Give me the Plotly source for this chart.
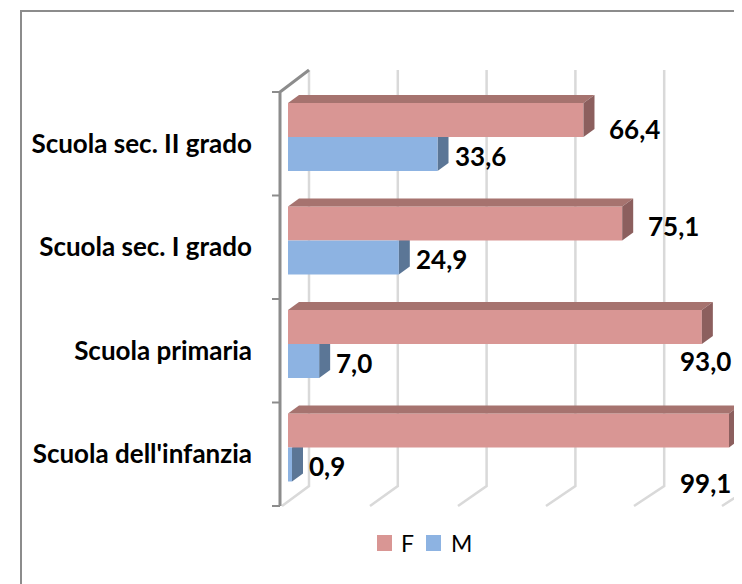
import plotly.graph_objects as go

# ---------------- data ----------------
categories = ["Scuola sec. II grado", "Scuola sec. I grado", "Scuola primaria", "Scuola dell'infanzia"]
f_values = [66.4, 75.1, 93.0, 99.1]
m_values = [33.6, 24.9, 7.0, 0.9]
f_labels = ["66,4", "75,1", "93,0", "99,1"]
m_labels = ["33,6", "24,9", "7,0", "0,9"]
grid_values = [0, 20, 40, 60, 80, 100]
series_names = ["F", "M"]

# ---------------- style ----------------
BODY = 8                   # default page margin of the html body
W, H = 742 - BODY, 584 - BODY
FONT = "Lato, Carlito, Calibri, 'Open Sans', sans-serif"
F_FRONT, F_TOP, F_SIDE = "#D99694", "#A6736F", "#8C5F5E"
M_FRONT, M_SIDE = "#8DB3E2", "#5B7696"
GRID = "#D9D9D9"
AXIS = "#8C8C8C"

# pixel geometry (screen coordinates) of the plot area
PL, PR, PT, PB = 270, 742, 60, 520
X0PX, SX = 288, 4.45       # pixel of value 0, pixels per unit
Y0PX, SY = 506, 103.5      # pixel of floor, pixels per category band
DXP, DYP = 11, 8           # bar depth (pixels)
F_TOP_OFF, SPLIT_OFF, M_BOT_OFF = 11, 45, 79
f_label_dy = [9, 2, 34, 52]   # label nudges (px, downward)
LABEL_RIGHT_LIMIT = 733

def xd(px):
    return (px - X0PX) / SX

def yd(py):
    return (Y0PX - py) / SY

def ppx(px):
    return (px - PL) / (PR - PL)

def ppy(py):
    return (PB - py) / (PB - PT)

n = len(categories)
ks = [n - 1 - i for i in range(n)]
band_top = [k + 1 for k in ks]
yF_top = [b - F_TOP_OFF / SY for b in band_top]
yF_bot = [b - SPLIT_OFF / SY for b in band_top]
yM_bot = [b - M_BOT_OFF / SY for b in band_top]
yF_c = [(a + b) / 2 for a, b in zip(yF_top, yF_bot)]
yM_c = [(a + b) / 2 for a, b in zip(yF_bot, yM_bot)]
bar_w = (SPLIT_OFF - F_TOP_OFF) / SY
DX, DY = DXP / SX, DYP / SY

fig = go.Figure()
fig.add_trace(go.Bar(x=f_values, y=yF_c, width=bar_w, orientation="h", name=series_names[0],
                     marker=dict(color=F_FRONT, line=dict(width=0)),
                     showlegend=False, hoverinfo="skip"))
fig.add_trace(go.Bar(x=m_values, y=yM_c, width=bar_w, orientation="h", name=series_names[1],
                     marker=dict(color=M_FRONT, line=dict(width=0)),
                     showlegend=False, hoverinfo="skip"))

shapes = []

def path(points):
    return "M " + " L ".join(f"{x},{y}" for x, y in points) + " Z"

# gridlines (back wall + floor)
back_top = yd(70)
back_floor = yd(486)
front_floor = yd(506)
for v in grid_values:
    xb = xd(309) + v * 4.44 / SX
    xf = xd(282) + v * 4.40 / SX
    shapes.append(dict(type="path", xref="x", yref="y", layer="below",
                       path=f"M {xb},{back_top} L {xb},{back_floor} L {xf},{front_floor}",
                       line=dict(color=GRID, width=2.5)))

# value axis wall line
shapes.append(dict(type="path", xref="x", yref="y", layer="below",
                   path=f"M {xd(280)},{yd(506)} L {xd(280)},{yd(92)} L {xd(309)},{yd(70)}",
                   line=dict(color=AXIS, width=3)))
for k in range(n + 1):
    shapes.append(dict(type="line", xref="x", yref="y", layer="below",
                       x0=xd(272), x1=xd(280), y0=k, y1=k,
                       line=dict(color=AXIS, width=2)))

# M side faces (partly hidden behind F fronts)
for m, yt, yb in zip(m_values, yF_bot, yM_bot):
    shapes.append(dict(type="path", xref="x", yref="y", layer="below",
                       path=path([(m, yt), (m, yb), (m + DX, yb + DY), (m + DX, yt + DY)]),
                       fillcolor=M_SIDE, line=dict(width=0)))

# F top and side faces
for f, yt, yb in zip(f_values, yF_top, yF_bot):
    shapes.append(dict(type="path", xref="x", yref="y", layer="above",
                       path=path([(0, yt), (f, yt), (f + DX, yt + DY), (DX, yt + DY)]),
                       fillcolor=F_TOP, line=dict(width=0)))
    shapes.append(dict(type="path", xref="x", yref="y", layer="above",
                       path=path([(f, yt), (f, yb), (f + DX, yb + DY), (f + DX, yt + DY)]),
                       fillcolor=F_SIDE, line=dict(width=0)))

# outer chart border (top and left edges visible)
shapes.append(dict(type="path", xref="paper", yref="paper",
                   path=f"M {ppx(21)},{ppy(600)} L {ppx(21)},{ppy(11)} L {ppx(760)},{ppy(11)}",
                   line=dict(color="#8C8C8C", width=2)))

# legend (squares + text)
annotations = []
leg_x = [377, 426]
leg_text_x = [399, 449]
for name, col, lx, tx in zip(series_names, [F_FRONT, M_FRONT], leg_x, leg_text_x):
    shapes.append(dict(type="rect", xref="paper", yref="paper",
                       x0=ppx(lx), x1=ppx(lx + 15), y0=ppy(551), y1=ppy(535),
                       fillcolor=col, line=dict(width=0)))
    annotations.append(dict(x=ppx(tx), y=ppy(543), xref="paper", yref="paper", text=name,
                            showarrow=False, xanchor="left", yanchor="middle",
                            font=dict(family=FONT, size=23, color="black")))

lab_font = dict(family=FONT, size=26, color="black", weight=700)
for v, lab, yc in zip(m_values, m_labels, yM_c):
    annotations.append(dict(x=v, y=yc, xref="x", yref="y", text=lab, showarrow=False,
                            xanchor="left", yanchor="middle", xshift=15, yshift=-1.5,
                            font=lab_font))
for v, lab, yc, ddy in zip(f_values, f_labels, yF_c, f_label_dy):
    left_px = X0PX + v * SX + 24
    est_w = 50
    if left_px + est_w > LABEL_RIGHT_LIMIT:
        annotations.append(dict(x=xd(LABEL_RIGHT_LIMIT), y=yc, xref="x", yref="y", text=lab,
                                showarrow=False, xanchor="right", yanchor="middle",
                                yshift=-ddy, font=lab_font))
    else:
        annotations.append(dict(x=v, y=yc, xref="x", yref="y", text=lab, showarrow=False,
                                xanchor="left", yanchor="middle", xshift=24, yshift=-ddy,
                                font=lab_font))

fig.update_layout(
    width=W, height=H,
    margin=dict(l=PL - BODY, r=742 - PR, t=PT - BODY, b=584 - PB, pad=0),
    paper_bgcolor="white", plot_bgcolor="white",
    barmode="overlay",
    font=dict(family=FONT, color="black"),
    xaxis=dict(range=[xd(PL), xd(PR)], showgrid=False, zeroline=False,
               showticklabels=False, showline=False, ticks=""),
    yaxis=dict(range=[yd(PB), yd(PT)], showgrid=False, zeroline=False,
               tickvals=[k + 0.5 for k in ks], ticktext=categories,
               tickfont=dict(family=FONT, size=26, color="black", weight=700),
               ticks="", ticklabelstandoff=17, showline=False),
    shapes=shapes,
    annotations=annotations,
    showlegend=False,
)

fig.write_html("out.html")
